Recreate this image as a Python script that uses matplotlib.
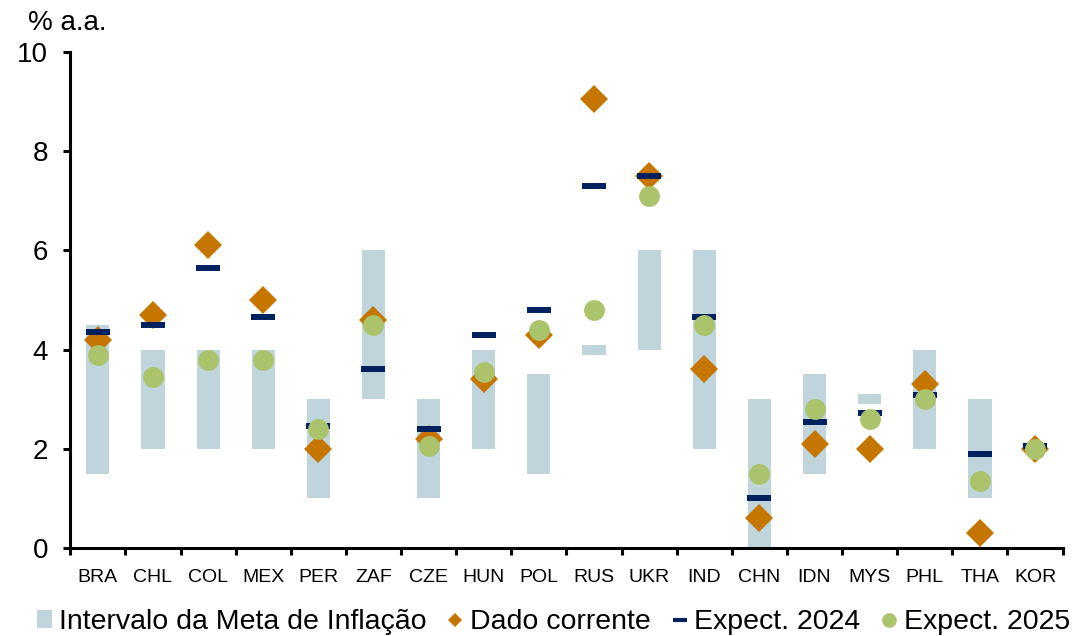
import matplotlib
matplotlib.use("Agg")
import matplotlib.pyplot as plt
import numpy as np
from matplotlib.lines import Line2D
from matplotlib.patches import Patch

plt.rcParams['font.family'] = ['Liberation Sans', 'DejaVu Sans']

countries = ["BRA", "CHL", "COL", "MEX", "PER", "ZAF", "CZE", "HUN", "POL",
             "RUS", "UKR", "IND", "CHN", "IDN", "MYS", "PHL", "THA", "KOR"]

# inflation target range (lower, upper), % a.a.
target_low = [1.5, 2.0, 2.0, 2.0, 1.0, 3.0, 1.0, 2.0, 1.5,
              3.9, 4.0, 2.0, 0.0, 1.5, 2.9, 2.0, 1.0, np.nan]
target_high = [4.5, 4.0, 4.0, 4.0, 3.0, 6.0, 3.0, 4.0, 3.5,
               4.1, 6.0, 6.0, 3.0, 3.5, 3.1, 4.0, 3.0, np.nan]

current = [4.2, 4.7, 6.1, 5.0, 2.0, 4.6, 2.2, 3.4, 4.3,
           9.05, 7.5, 3.6, 0.6, 2.1, 2.0, 3.3, 0.3, 2.0]
expect_2024 = [4.35, 4.5, 5.65, 4.65, 2.45, 3.6, 2.4, 4.3, 4.8,
               7.3, 7.5, 4.65, 1.0, 2.55, 2.73, 3.08, 1.9, 2.05]
expect_2025 = [3.9, 3.45, 3.8, 3.8, 2.4, 4.5, 2.05, 3.55, 4.4,
               4.8, 7.1, 4.5, 1.5, 2.8, 2.6, 3.0, 1.35, 2.0]

c_bar = "#C0D4DC"
c_cur = "#C47600"
c_e24 = "#00215F"
c_e25 = "#ABC36A"

fig = plt.figure(figsize=(10.81, 6.36), dpi=100)
ax = fig.add_axes([0.065, 0.1384, 0.918, 0.7798])

x = np.arange(len(countries))
lo = np.array(target_low)
hi = np.array(target_high)
ax.bar(x, hi - lo, bottom=lo, width=0.42, color=c_bar, zorder=1)
ax.plot(x, current, linestyle="none", marker="D", markersize=14,
        color=c_cur, markeredgewidth=0, zorder=2)
ax.plot(x, expect_2024, linestyle="none", marker="_", markersize=17,
        markeredgewidth=4.3, color=c_e24, zorder=3)
ax.plot(x, expect_2025, linestyle="none", marker="o", markersize=15,
        color=c_e25, markeredgewidth=0, zorder=4)

ax.set_xlim(-0.5, len(countries) - 0.5)
ax.set_ylim(0, 10)
ax.set_yticks([0, 2, 4, 6, 8, 10])
ax.tick_params(axis="y", labelsize=20, width=2.2, length=5, direction="out", pad=11)

ax.set_xticks(x)
ax.set_xticklabels(countries)
ax.set_xticks(np.arange(-0.5, len(countries) + 0.5, 1), minor=True)
ax.tick_params(axis="x", which="major", length=0, labelsize=14, pad=15)
ax.tick_params(axis="x", which="minor", length=5, width=2.2, direction="out")

for s in ["top", "right"]:
    ax.spines[s].set_visible(False)
for s in ["left", "bottom"]:
    ax.spines[s].set_linewidth(2.2)

fig.text(0.026, 0.964, "% a.a.", fontsize=20, va="center", ha="left")

handles = [
    Patch(facecolor=c_bar, edgecolor="none"),
    Line2D([], [], linestyle="none", marker="D", markersize=7, color=c_cur, markeredgewidth=0),
    Line2D([], [], linestyle="none", marker="_", markersize=10.5, markeredgewidth=3, color=c_e24),
    Line2D([], [], linestyle="none", marker="o", markersize=10.5, color=c_e25, markeredgewidth=0),
]
labels = ["Intervalo da Meta de Inflação", "Dado corrente", "Expect. 2024", "Expect. 2025"]
fig.legend(handles, labels, loc="center", bbox_to_anchor=(0.512, 0.022), ncol=4,
           frameon=False, fontsize=20.5, handlelength=0.53, handleheight=0.55,
           handletextpad=0.25, columnspacing=0.75, borderpad=0)

fig.savefig("out.png", dpi=100)
